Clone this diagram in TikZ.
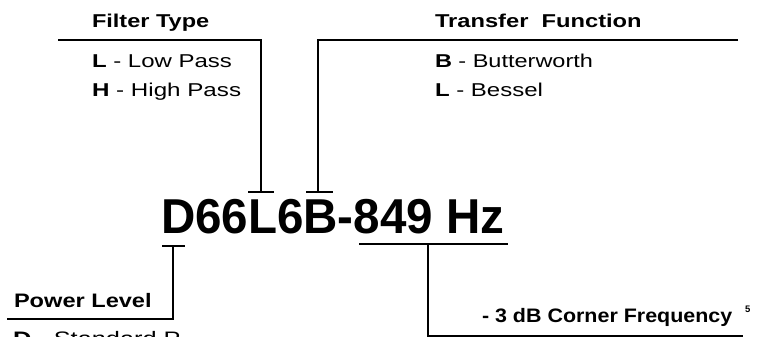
\documentclass[tikz,border=0pt]{standalone}
\usepackage{fontspec}
\setmainfont{Liberation Sans}
\usepackage{graphicx}
\begin{document}
\begin{tikzpicture}[x=1pt,y=-1pt,
  lbl/.style={anchor=base west,inner sep=0pt,outer sep=0pt},
  ln/.style={line width=1.8pt,line cap=butt,line join=miter}]
\useasboundingbox (0,0) rectangle (761,337);
\newcommand{\sx}[2]{\scalebox{#1}[1]{#2}}
\newcommand{\lf}{\fontsize{18.6}{20}\selectfont}
% top-left block
\node[lbl] (ft) at (92,28) {\lf\sx{1.265}{\textbf{Filter Type}}};
\node[lbl] (lp) at (92,68) {\lf\sx{1.29}{\textbf{L} - Low Pass}};
\node[lbl] (hp) at (92,97) {\lf\sx{1.30}{\textbf{H} - High Pass}};
% top-right block
\node[lbl] (tf) at (435,28) {\lf\sx{1.274}{\textbf{Transfer\ \ Function}}};
\node[lbl] (bw) at (435,68) {\lf\sx{1.263}{\textbf{B} - Butterworth}};
\node[lbl] (bs) at (435,97) {\lf\sx{1.29}{\textbf{L} - Bessel}};
% main part number
\node[lbl] (pn) at (161,233) {\fontsize{49}{52}\selectfont\sx{0.97}{\textbf{D66L6B-849 Hz}}};
% bottom-left
\node[lbl] (pl) at (14,307) {\fontsize{19.5}{21}\selectfont\sx{1.21}{\textbf{Power Level}}};
\node[lbl] (sp) at (13,345) {\fontsize{19.5}{21}\selectfont\sx{1.3}{\textbf{D} - Standard P}};
% bottom-right
\node[lbl] (cf) at (482,322) {\fontsize{19.5}{21}\selectfont\sx{1.10}{\textbf{- 3 dB Corner Frequency}}};
\node[lbl] (five) at (745,312) {\fontsize{9.5}{10}\selectfont\textbf{5}};
% connector coordinates
\coordinate (a1) at (58,40);
\coordinate (a2) at (261,40);
\coordinate (a3) at (261,192);
\coordinate (aL) at (248,192);
\coordinate (aR) at (274,192);
\coordinate (b1) at (738,40);
\coordinate (b2) at (318,40);
\coordinate (b3) at (318,192);
\coordinate (bL) at (306,192);
\coordinate (bR) at (333,192);
\coordinate (c1) at (162,246);
\coordinate (c2) at (185,246);
\coordinate (c3) at (173,246);
\coordinate (c4) at (173,319);
\coordinate (c5) at (7,319);
\coordinate (d1) at (359,244);
\coordinate (d2) at (508,244);
\coordinate (d3) at (428,244);
\coordinate (d4) at (428,336);
\coordinate (d5) at (743,336);
% connectors
\draw[ln] (a1) -- (a2) -- (a3);
\draw[ln] (aL) -- (aR);
\draw[ln] (b1) -- (b2) -- (b3);
\draw[ln] (bL) -- (bR);
\draw[ln] (c1) -- (c2);
\draw[ln] (c3) -- (c4) -- (c5);
\draw[ln] (d1) -- (d2);
\draw[ln] (d3) -- (d4) -- (d5);
\end{tikzpicture}
\end{document}
